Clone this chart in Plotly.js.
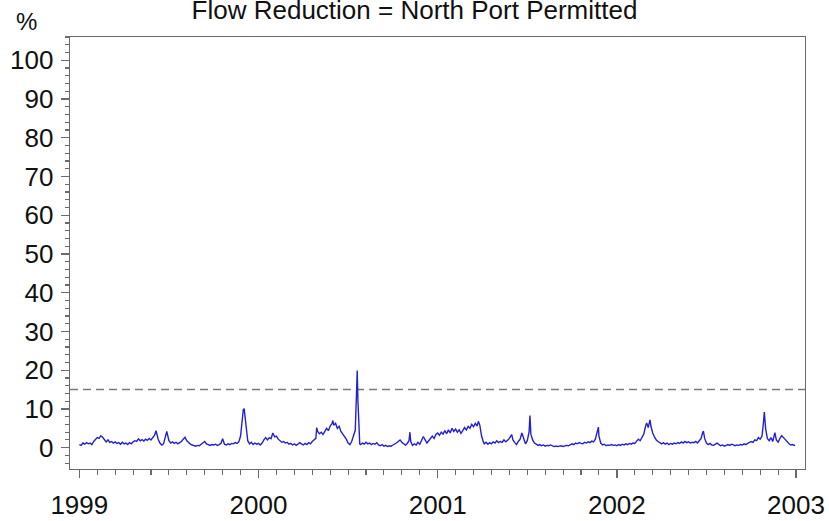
<!DOCTYPE html>
<html>
<head>
<meta charset="utf-8">
<script src="https://cdn.plot.ly/plotly-3.0.1.min.js"></script>
<style>html,body{margin:0;padding:0;background:#fff;}#chart{width:829px;height:521px;}</style>
</head>
<body>
<div id="chart"></div>
<script>
// Decimal-year time axis and flow reduction (%)
const years = [
1999.00,1999.01,1999.02,1999.03,1999.04,1999.05,1999.06,1999.07,1999.08,1999.09,
1999.10,1999.11,1999.12,1999.13,1999.14,1999.15,1999.16,1999.17,1999.18,1999.19,
1999.20,1999.21,1999.22,1999.23,1999.24,1999.25,1999.26,1999.27,1999.28,1999.29,
1999.30,1999.31,1999.32,1999.33,1999.34,1999.35,1999.36,1999.37,1999.38,1999.39,
1999.40,1999.41,1999.42,1999.428,1999.44,1999.45,1999.46,1999.47,1999.48,1999.488,
1999.50,1999.51,1999.52,1999.53,1999.54,1999.55,1999.56,1999.57,1999.58,1999.59,
1999.60,1999.61,1999.62,1999.63,1999.64,1999.65,1999.66,1999.67,1999.68,1999.69,
1999.70,1999.71,1999.72,1999.73,1999.74,1999.75,1999.76,1999.77,1999.78,1999.79,
1999.80,1999.81,1999.82,1999.83,1999.84,1999.85,1999.86,1999.87,1999.88,1999.89,
1999.90,1999.91,1999.915,1999.92,1999.925,1999.93,1999.94,1999.95,1999.96,1999.97,
1999.98,1999.99,2000.00,2000.01,2000.02,2000.03,2000.04,2000.05,2000.06,2000.07,
2000.08,2000.09,2000.10,2000.11,2000.12,2000.13,2000.14,2000.15,2000.16,2000.17,
2000.18,2000.19,2000.20,2000.21,2000.22,2000.23,2000.24,2000.25,2000.26,2000.27,
2000.28,2000.29,2000.30,2000.31,2000.32,2000.325,2000.33,2000.34,2000.35,2000.36,
2000.37,2000.38,2000.39,2000.40,2000.41,2000.415,2000.42,2000.43,2000.44,2000.45,
2000.46,2000.47,2000.48,2000.49,2000.50,2000.51,2000.52,2000.53,2000.54,2000.547,
2000.551,2000.555,2000.56,2000.565,2000.57,2000.58,2000.59,2000.60,2000.61,2000.62,
2000.63,2000.64,2000.65,2000.66,2000.67,2000.68,2000.69,2000.70,2000.71,2000.72,
2000.73,2000.74,2000.75,2000.76,2000.77,2000.78,2000.79,2000.80,2000.81,2000.82,
2000.83,2000.84,2000.845,2000.85,2000.86,2000.87,2000.88,2000.89,2000.90,2000.91,
2000.92,2000.93,2000.94,2000.95,2000.96,2000.97,2000.98,2000.99,2001.00,2001.01,
2001.02,2001.03,2001.04,2001.05,2001.06,2001.07,2001.08,2001.09,2001.10,2001.11,
2001.12,2001.13,2001.14,2001.15,2001.16,2001.17,2001.18,2001.19,2001.20,2001.21,
2001.22,2001.227,2001.235,2001.245,2001.255,2001.26,2001.27,2001.28,2001.29,2001.30,
2001.31,2001.32,2001.33,2001.34,2001.35,2001.36,2001.37,2001.38,2001.39,2001.40,
2001.413,2001.42,2001.43,2001.44,2001.45,2001.46,2001.47,2001.48,2001.49,2001.50,
2001.51,2001.515,2001.52,2001.53,2001.54,2001.55,2001.56,2001.57,2001.58,2001.59,
2001.60,2001.61,2001.62,2001.63,2001.64,2001.65,2001.66,2001.67,2001.68,2001.69,
2001.70,2001.71,2001.72,2001.73,2001.74,2001.75,2001.76,2001.77,2001.78,2001.79,
2001.80,2001.81,2001.82,2001.83,2001.84,2001.85,2001.86,2001.87,2001.88,2001.89,
2001.897,2001.90,2001.91,2001.92,2001.93,2001.94,2001.95,2001.96,2001.97,2001.98,
2001.99,2002.00,2002.01,2002.02,2002.03,2002.04,2002.05,2002.06,2002.07,2002.08,
2002.09,2002.10,2002.11,2002.12,2002.13,2002.14,2002.15,2002.16,2002.166,2002.175,
2002.185,2002.19,2002.20,2002.21,2002.22,2002.23,2002.24,2002.25,2002.26,2002.27,
2002.28,2002.29,2002.30,2002.31,2002.32,2002.33,2002.34,2002.35,2002.36,2002.37,
2002.38,2002.39,2002.40,2002.41,2002.42,2002.43,2002.44,2002.45,2002.46,2002.47,
2002.478,2002.483,2002.49,2002.50,2002.51,2002.52,2002.53,2002.54,2002.55,2002.56,
2002.57,2002.58,2002.59,2002.60,2002.61,2002.62,2002.63,2002.64,2002.65,2002.66,
2002.67,2002.68,2002.69,2002.70,2002.71,2002.72,2002.73,2002.74,2002.75,2002.76,
2002.77,2002.78,2002.79,2002.80,2002.81,2002.818,2002.823,2002.83,2002.84,2002.85,
2002.86,2002.87,2002.875,2002.882,2002.89,2002.90,2002.91,2002.92,2002.93,2002.94,
2002.95,2002.96,2002.97,2002.98,2002.99,2002.994
];
const flowReduction = [
0.8,0.6,1.2,0.9,1.3,1.0,1.2,0.8,1.6,2.2,
2.6,2.4,3.1,2.7,2.2,1.5,2.0,1.4,1.6,1.2,
1.5,1.1,1.3,0.9,1.4,1.0,1.2,0.8,1.3,1.0,
1.5,1.8,1.6,2.3,1.8,2.1,1.7,2.2,1.9,2.4,
2.0,2.6,3.2,4.4,2.2,1.2,0.7,1.0,2.5,4.2,
1.8,1.2,1.5,1.1,1.4,1.0,1.3,1.6,2.2,2.7,
1.8,1.2,0.9,0.7,0.5,0.4,0.6,0.5,0.9,1.3,
1.6,1.0,0.7,0.6,0.8,0.7,0.9,0.6,0.8,1.1,
2.3,0.9,0.7,1.0,0.8,1.1,1.0,1.3,1.1,1.5,
3.0,7.0,9.8,10.1,8.2,5.0,1.8,1.0,1.4,0.8,
1.2,0.9,1.1,0.7,1.2,2.0,2.6,2.0,2.6,2.3,
3.8,2.8,3.0,2.2,1.8,1.4,1.6,1.2,1.4,0.9,
1.1,0.7,1.0,0.6,0.9,1.3,1.0,0.7,1.1,0.8,
1.3,1.0,1.6,1.9,2.4,5.2,4.2,3.6,4.0,3.4,
4.2,5.0,4.4,5.6,6.2,7.0,5.8,6.3,5.0,5.5,
4.2,3.6,2.8,2.2,1.2,0.8,1.6,2.8,4.5,14.0,
19.9,12.0,3.0,1.0,0.8,1.2,0.9,1.4,1.0,1.2,
0.8,1.1,0.9,1.3,0.7,0.5,0.8,0.4,0.6,0.3,
0.5,0.4,0.7,0.9,1.2,1.6,2.0,1.4,1.0,0.7,
1.1,1.8,4.0,1.5,0.6,1.0,0.7,1.4,0.9,1.8,
2.9,2.0,1.2,1.8,2.4,3.0,2.4,3.4,3.8,3.2,
4.0,3.5,4.4,3.6,4.6,3.8,5.0,4.2,4.8,4.0,
4.6,3.7,4.4,5.2,4.6,5.5,5.0,6.0,5.4,6.3,
5.6,6.8,5.8,3.0,1.5,1.0,1.4,0.9,1.3,1.0,
1.5,1.2,1.8,1.3,1.6,1.4,2.0,1.5,1.9,2.4,
3.4,2.0,1.3,0.8,1.6,2.2,3.8,2.2,1.0,1.8,
4.0,8.3,3.5,2.0,1.2,0.9,0.6,0.8,0.5,0.7,
0.4,0.6,0.5,0.7,0.5,0.3,0.4,0.3,0.4,0.5,
0.3,0.4,0.6,0.5,0.8,1.0,0.8,1.2,1.0,1.3,
1.1,1.0,1.4,1.2,1.5,1.3,1.7,1.5,2.2,3.8,
5.3,3.0,1.2,0.7,0.9,0.5,0.7,0.6,0.8,0.6,
0.7,0.5,0.8,0.6,0.9,0.7,1.0,0.8,1.1,0.9,
1.2,1.1,1.6,2.2,1.8,2.5,3.5,5.5,6.4,5.2,
7.2,5.6,3.8,2.8,2.0,1.6,1.2,1.0,1.3,0.9,
1.2,0.8,1.1,0.9,1.2,1.0,1.3,1.1,1.5,1.2,
1.6,1.3,1.5,1.2,1.4,1.3,1.6,1.2,1.8,2.4,
3.8,4.3,2.4,1.2,0.8,1.1,0.7,0.6,0.9,1.2,
0.8,0.5,0.7,0.4,0.6,0.8,0.6,0.9,0.7,0.5,
0.7,0.6,0.8,0.7,1.0,0.8,1.1,1.3,1.6,1.4,
2.0,1.8,2.6,2.2,3.0,6.5,9.2,5.0,2.4,1.8,
2.6,1.6,2.8,3.9,2.0,1.4,2.4,3.1,2.6,2.0,
1.5,1.1,0.7,0.8,0.6,0.7
];
const threshold = 15;
const xTickVals = [1999, 2000, 2001, 2002, 2003];
const xTickText = ["1999", "2000", "2001", "2002", "2003"];
const yTickVals = [0, 10, 20, 30, 40, 50, 60, 70, 80, 90, 100];
const yTickText = ["0", "10", "20", "30", "40", "50", "60", "70", "80", "90", "100"];

const FONT = "Liberation Sans, Arial, sans-serif";
const AXC = "#6a6a6a";

const trace = {
  x: years, y: flowReduction, type: "scatter", mode: "lines",
  line: {color: "#2222d4", width: 1.4}, hoverinfo: "skip", showlegend: false
};

const layout = {
  width: 829, height: 521,
  margin: {l: 70, r: 24, t: 37, b: 52, pad: 0},
  paper_bgcolor: "#ffffff", plot_bgcolor: "#ffffff",
  font: {family: FONT, color: "#111111"},
  showlegend: false,
  title: {
    text: "Flow Reduction = North Port Permitted",
    font: {family: FONT, size: 26, color: "#111111"},
    x: 0.5, xref: "container", xanchor: "center",
    y: 0.981, yref: "container", yanchor: "middle"
  },
  xaxis: {
    range: [1998.948, 2003.05], showgrid: false, zeroline: false,
    showline: true, linecolor: AXC, linewidth: 1.3, mirror: true,
    ticks: "outside", ticklen: 8, tickwidth: 1.3, tickcolor: AXC,
    tickvals: xTickVals, ticktext: xTickText,
    tickfont: {family: FONT, size: 26, color: "#111111"},
    ticklabelstandoff: 4,
    minor: {tick0: 1999, dtick: 0.1, ticks: "outside", ticklen: 5, tickwidth: 1.1, tickcolor: AXC, showgrid: false}
  },
  yaxis: {
    range: [-5.5, 106], showgrid: false, zeroline: false,
    showline: true, linecolor: AXC, linewidth: 1.3, mirror: true,
    ticks: "outside", ticklen: 8, tickwidth: 1.3, tickcolor: AXC,
    tickvals: yTickVals, ticktext: yTickText,
    tickfont: {family: FONT, size: 26, color: "#111111"},
    ticklabelstandoff: 2,
    minor: {tick0: 0, dtick: 2, ticks: "outside", ticklen: 4, tickwidth: 1.1, tickcolor: AXC, showgrid: false}
  },
  shapes: [{
    type: "line", xref: "paper", x0: 0, x1: 1, yref: "y", y0: threshold, y1: threshold,
    line: {color: "#7a7a7a", width: 1.5, dash: "8px,5px"}, layer: "below"
  }],
  annotations: [{
    text: "%", xref: "paper", yref: "paper", x: -0.059, y: 1.036,
    xanchor: "center", yanchor: "middle", showarrow: false,
    font: {family: FONT, size: 24, color: "#111111"}
  }]
};

Plotly.newPlot("chart", [trace], layout, {displayModeBar: false, staticPlot: true});
</script>
</body>
</html>
